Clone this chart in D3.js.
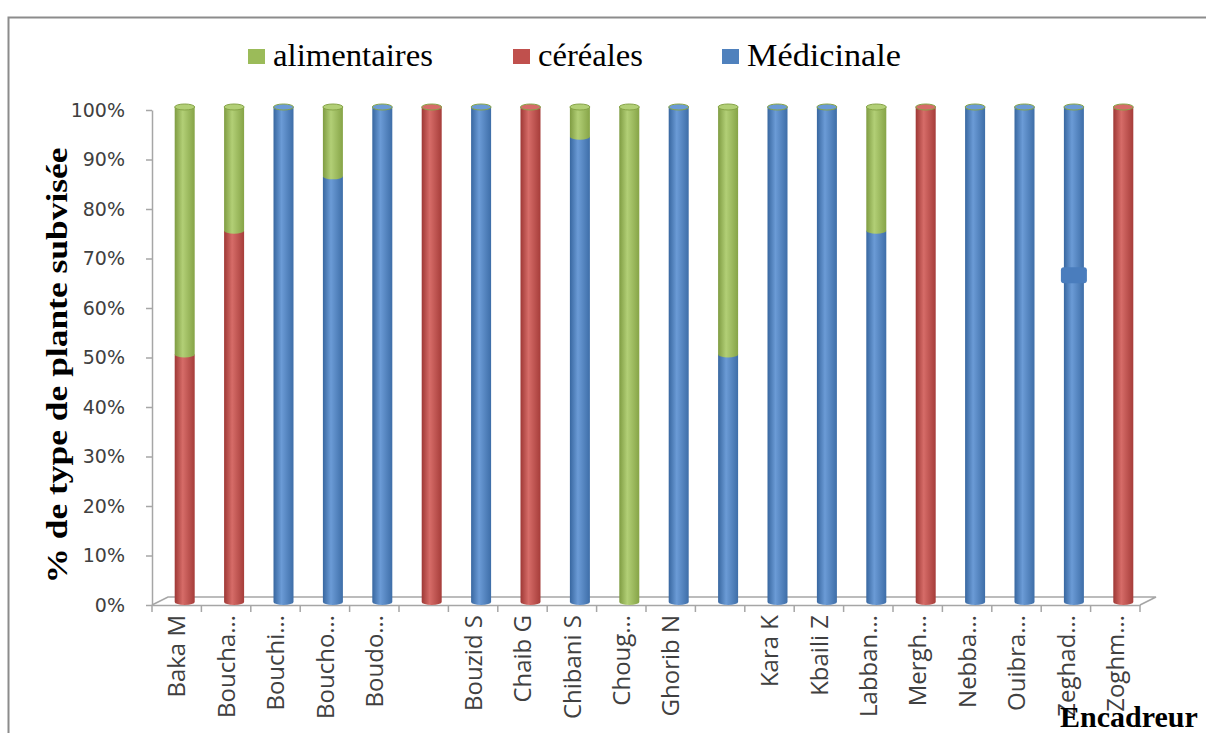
<!DOCTYPE html>
<html>
<head>
<meta charset="utf-8">
<script src="https://cdn.jsdelivr.net/npm/d3@7"></script>
<style>
  body { margin: 0; background: #fff; }
  svg { display: block; }
</style>
</head>
<body>
<div id="app"></div>
<script>
'use strict'
const W = 1206
const H = 733

// categories (two blank names in the original)
const names = ['Baka M', 'Boucha…', 'Bouchi…', 'Boucho…', 'Boudo…', '', 'Bouzid S', 'Chaib G',
  'Chibani S', 'Choug…', 'Ghorib N', '', 'Kara K', 'Kbaili Z', 'Labban…', 'Mergh…', 'Nebba…',
  'Ouibra…', 'Zeghad…', 'Zoghm…']

// % per type, stacked bottom -> top : Médicinale, céréales, alimentaires
const medicinale   = [0, 0, 100, 86, 100, 0, 100, 0, 94, 0, 100, 50, 100, 100, 75, 0, 100, 100, 100, 0]
const cereales     = [50, 75, 0, 0, 0, 100, 0, 100, 0, 0, 0, 0, 0, 0, 0, 100, 0, 0, 0, 100]
const alimentaires = [50, 25, 0, 14, 0, 0, 0, 0, 6, 100, 0, 50, 0, 0, 25, 0, 0, 0, 0, 0]

const yTicks = [0, 10, 20, 30, 40, 50, 60, 70, 80, 90, 100]
const legendItems = ['alimentaires', 'céréales', 'Médicinale']

// odd little bump drawn on the Zeghad bar
const bumps = [{ cat: 18, value: 66 }]

const seriesKeys = ['Médicinale', 'céréales', 'alimentaires']
const colors = { 'alimentaires': '#9BBB59', 'céréales': '#C0504D', 'Médicinale': '#4F81BD' }
const shades = {
  'alimentaires': ['#7f9c42', '#b2cf76', '#86a447'],
  'céréales': ['#9e3835', '#d66c68', '#a63d3a'],
  'Médicinale': ['#3867a0', '#6b9bd6', '#3e6ea8']
}

const table = names.map((n, i) => ({
  idx: i,
  name: n,
  'Médicinale': medicinale[i],
  'céréales': cereales[i],
  'alimentaires': alimentaires[i]
}))

const margin = { top: 110, left: 152, right: 66, bottom: 128 }
const depthX = 8
const depthY = -3
const barW = 20

const svg = d3.select('#app').append('svg')
  .attr('width', W)
  .attr('height', H)

const defs = svg.append('defs')
seriesKeys.forEach((k, j) => {
  const g = defs.append('linearGradient').attr('id', 'grad' + j)
    .attr('x1', '0%').attr('x2', '100%').attr('y1', '0%').attr('y2', '0%')
  g.append('stop').attr('offset', '0%').attr('stop-color', shades[k][0])
  g.append('stop').attr('offset', '40%').attr('stop-color', shades[k][1])
  g.append('stop').attr('offset', '100%').attr('stop-color', shades[k][2])
})

// outer frame
svg.append('path')
  .attr('d', `M8.5,${H} V17.5 H${W}`)
  .attr('fill', 'none')
  .attr('stroke', '#8c8c8c')
  .attr('stroke-width', 2)

const x = d3.scaleBand()
  .domain(table.map(d => d.idx))
  .range([margin.left, W - margin.right])
  .padding(0)

const y = d3.scaleLinear()
  .domain([0, 100])
  .range([H - margin.bottom, margin.top])

const x0 = margin.left
const x1 = W - margin.right
const yb = y(0)

// 3D floor
svg.append('path')
  .attr('d', `M${x0},${yb} L${x0 + depthX * 2},${yb - 8} H${x1 + depthX * 2} L${x1},${yb}`)
  .attr('fill', 'none')
  .attr('stroke', '#a6a6a6')
  .attr('stroke-width', 1.5)

// y axis
const yAxis = svg.append('g')
  .attr('transform', `translate(${x0},0)`)
  .call(d3.axisLeft(y).tickValues(yTicks).tickFormat(d => d + '%').tickSize(6).tickSizeOuter(0))
yAxis.select('.domain').attr('stroke', '#a6a6a6').attr('stroke-width', 1.5)
yAxis.selectAll('.tick line').attr('stroke', '#a6a6a6').attr('stroke-width', 1.5)
yAxis.selectAll('.tick text')
  .attr('x', -27)
  .attr('fill', '#404040')
  .style('font-family', '"DejaVu Sans", sans-serif')
  .style('font-size', '19px')

// x axis
const xAxis = svg.append('g')
  .attr('transform', `translate(0,${yb})`)
  .call(d3.axisBottom(x).tickSize(0).tickFormat(i => names[i]))
xAxis.select('.domain').attr('stroke', '#a6a6a6').attr('stroke-width', 1.5)
xAxis.selectAll('.tick text')
  .attr('transform', 'rotate(-90)')
  .attr('x', -10)
  .attr('y', 0)
  .attr('dy', '0.36em')
  .attr('text-anchor', 'end')
  .attr('fill', '#404040')
  .style('font-family', '"Open Sans", sans-serif')
  .style('font-size', '24px')
// boundary ticks between categories
const bounds = d3.range(names.length + 1).map(i => x0 + i * x.bandwidth())
xAxis.selectAll('.btick').data(bounds).enter().append('line')
  .attr('class', 'btick')
  .attr('x1', d => d).attr('x2', d => d)
  .attr('y1', 0).attr('y2', 7)
  .attr('stroke', '#a6a6a6')
  .attr('stroke-width', 1.5)

// stacked cylinders
const stack = d3.stack().keys(seriesKeys)
const layers = stack(table)
const yBar = v => y(v) + depthY
const cx = i => x(i) + x.bandwidth() / 2 + depthX
const ry = 3

const bars = svg.append('g')
layers.forEach((layer, j) => {
  const key = layer.key
  const g = bars.append('g')
  layer.forEach((d, i) => {
    if (d[1] - d[0] <= 0) return
    const left = cx(i) - barW / 2
    const top = yBar(d[1])
    const bot = yBar(d[0])
    // body with rounded bottom
    g.append('path')
      .attr('d', `M${left},${top} V${bot} A${barW / 2},${ry} 0 0 0 ${left + barW},${bot} V${top} Z`)
      .attr('fill', `url(#grad${j})`)
    if (d[1] >= 100) {
      g.append('ellipse')
        .attr('cx', cx(i))
        .attr('cy', top)
        .attr('rx', barW / 2)
        .attr('ry', ry)
        .attr('fill', shades[key][1])
        .attr('stroke', '#86a447')
        .attr('stroke-width', 1)
    }
  })
})

bumps.forEach(b => {
  bars.append('rect')
    .attr('x', cx(b.cat) - barW / 2 - 3)
    .attr('y', yBar(b.value) - 8)
    .attr('width', barW + 6)
    .attr('height', 16)
    .attr('rx', 3)
    .attr('fill', '#4a7dbd')
})

// legend
const legendX = [248, 513, 722]
const legendLen = [160, 105, 154]
const legend = svg.append('g')
legendItems.forEach((k, i) => {
  legend.append('rect')
    .attr('x', legendX[i])
    .attr('y', 49)
    .attr('width', 17)
    .attr('height', 15)
    .attr('fill', colors[k])
  legend.append('text')
    .attr('x', legendX[i] + 25)
    .attr('y', 66)
    .attr('textLength', legendLen[i])
    .attr('lengthAdjust', 'spacingAndGlyphs')
    .style('font-family', '"Liberation Serif", "Times New Roman", serif')
    .style('font-size', '31px')
    .attr('fill', '#000')
    .text(k)
})

// y title
svg.append('text')
  .attr('transform', `translate(67,${(y(0) + y(100)) / 2 + 8}) rotate(-90)`)
  .attr('text-anchor', 'middle')
  .attr('textLength', 436)
  .attr('lengthAdjust', 'spacingAndGlyphs')
  .style('font-family', '"Liberation Serif", serif')
  .style('font-weight', 'bold')
  .style('font-size', '29px')
  .text('% de type de plante subvisée')

// x title
svg.append('text')
  .attr('x', 1060)
  .attr('y', 727)
  .style('font-family', '"Liberation Serif", serif')
  .style('font-weight', 'bold')
  .style('font-size', '30px')
  .text('Encadreur')
</script>
</body>
</html>
